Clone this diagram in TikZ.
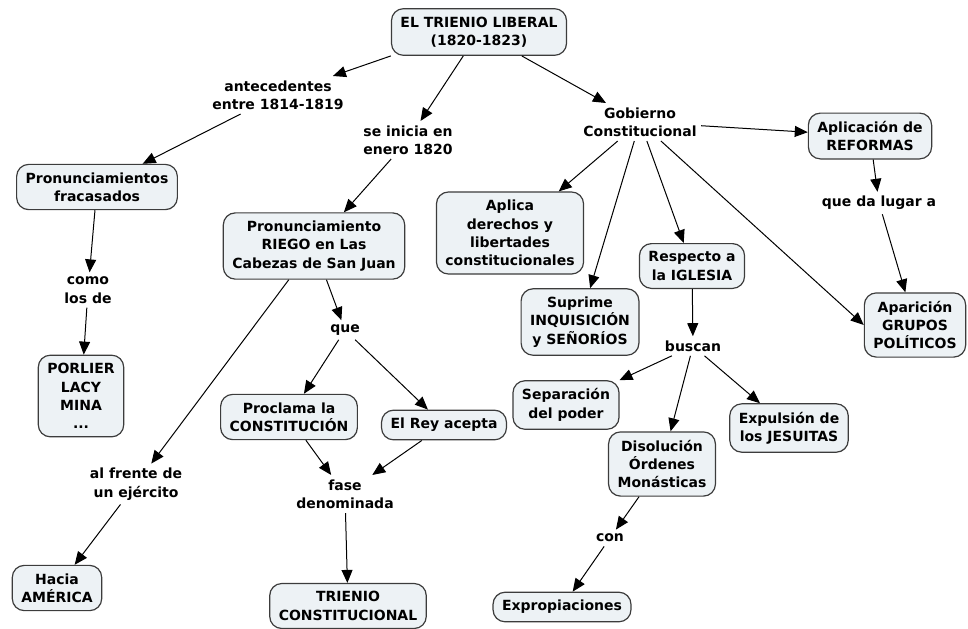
\documentclass[tikz,border=0pt]{standalone}
\usepackage{fontspec}
\setmainfont{DejaVu Sans}
\usetikzlibrary{arrows.meta}

\definecolor{boxfill}{HTML}{EDF2F5}
\definecolor{boxline}{HTML}{3C3C3C}

\tikzset{
	concept/.style={draw=boxline, fill=boxfill, rounded corners=6pt, line width=0.6pt,
		align=center, inner xsep=4.5pt, inner ysep=4pt},
	phrase/.style={align=center, inner sep=2pt},
	link/.style={-{Triangle[length=6.5pt,width=5.5pt]}, line width=0.5pt, black}
}

\begin{document}
\begin{tikzpicture}[x=0.5pt, y=-0.5pt, font=\fontsize{7}{9.2}\selectfont\bfseries]
	\useasboundingbox (0,0) rectangle (968,628);

	% Title
	\node (title) at (479,32) [concept] {EL TRIENIO LIBERAL\\(1820-1823)};

	% Linking phrases under the title
	\node (antec) at (278,95) [phrase] {antecedentes\\entre 1814-1819};
	\node (inicia) at (408,140) [phrase] {se inicia en\\enero 1820};
	\node (gobierno) at (640,122) [phrase] {Gobierno\\Constitucional};

	% Left branch
	\node (fracasados) at (97,187) [concept] {Pronunciamientos\\fracasados};
	\node (como) at (88,290) [phrase] {como\\los de};
	\node (porlier) at (81,396) [concept] {PORLIER\\LACY\\MINA\\...};

	% Riego branch
	\node (riego) at (314,246) [concept] {Pronunciamiento\\RIEGO en Las\\Cabezas de San Juan};
	\node (que) at (345,330) [phrase] {que};
	\node (proclama) at (289,417) [concept] {Proclama la\\CONSTITUCIÓN};
	\node (rey) at (444,425) [concept] {El Rey acepta};
	\node (fase) at (345,494) [phrase] {fase\\denominada};
	\node (trienio) at (348,606) [concept] {TRIENIO\\CONSTITUCIONAL};
	\node (frente) at (136,484) [phrase] {al frente de\\un ejército};
	\node (america) at (57,588) [concept] {Hacia\\AMÉRICA};

	% Gobierno branch
	\node (derechos) at (510,233) [concept] {Aplica\\derechos y\\libertades\\constitucionales};
	\node (suprime) at (580,322) [concept] {Suprime\\INQUISICIÓN\\y SEÑORÍOS};
	\node (iglesia) at (692,266) [concept] {Respecto a\\la IGLESIA};
	\node (buscan) at (693,346) [phrase] {buscan};
	\node (separacion) at (566,405) [concept] {Separación\\del poder};
	\node (disolucion) at (662,464) [concept] {Disolución\\Órdenes\\Monásticas};
	\node (expulsion) at (789,428) [concept] {Expulsión de\\los JESUITAS};
	\node (con) at (610,538) [phrase] {con};
	\node (expropiaciones) at (562,607) [concept] {Expropiaciones};
	\node (reformas) at (870,136) [concept] {Aplicación de\\REFORMAS};
	\node (lugar) at (879,203) [phrase] {que da lugar a};
	\node (grupos) at (915,325) [concept] {Aparición\\GRUPOS\\POLÍTICOS};

	% Connectors
	\draw[link] (title.south west) -- (antec);
	\draw[link] (antec) -- (fracasados);
	\draw[link] (title) -- (inicia);
	\draw[link] (inicia) -- (riego);
	\draw[link] (title) -- (gobierno);

	\draw[link] (fracasados) -- (como);
	\draw[link] (como) -- (porlier);

	\draw[link] (riego) -- (que);
	\draw[link] (que) -- (proclama);
	\draw[link] (que) -- (rey);
	\draw[link] (proclama) -- (fase);
	\draw[link] (rey) -- (fase);
	\draw[link] (fase) -- (trienio);
	\draw[link] (riego) -- (frente);
	\draw[link] (frente) -- (america);

	\draw[link] (gobierno) -- (reformas);
	\draw[link] (gobierno) -- (derechos);
	\draw[link] (gobierno) -- (suprime);
	\draw[link] (gobierno) -- (iglesia);
	\draw[link] (gobierno) -- (grupos.west);
	\draw[link] (reformas) -- (lugar);
	\draw[link] (lugar) -- (grupos);

	\draw[link] (iglesia) -- (buscan);
	\draw[link] (buscan) -- (separacion);
	\draw[link] (buscan) -- (disolucion);
	\draw[link] (buscan) -- (expulsion);
	\draw[link] (disolucion) -- (con);
	\draw[link] (con) -- (expropiaciones);

\end{tikzpicture}
\end{document}
